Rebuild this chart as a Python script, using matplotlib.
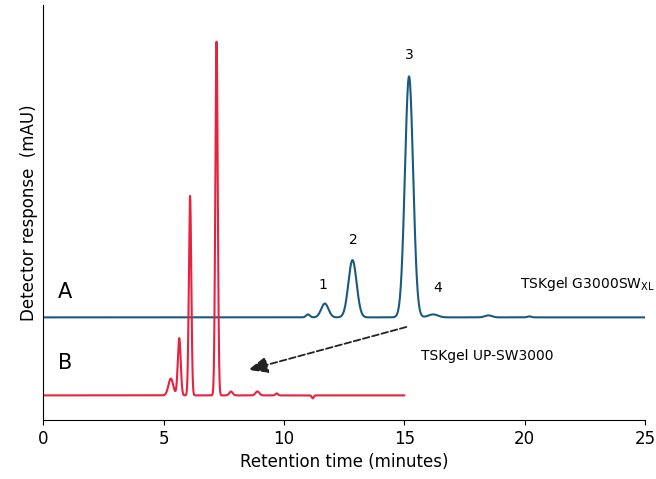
import numpy as np
import matplotlib.pyplot as plt

# peak parameters: centre (min), height, width (sigma)
a_pos = [11.0, 11.7, 12.85, 15.2, 16.2, 18.5, 20.2]
a_height = [3, 14, 58, 244, 3, 2, 1]
a_width = [0.08, 0.15, 0.17, 0.17, 0.2, 0.15, 0.08]
b_pos = [5.3, 5.65, 6.1, 7.2, 7.8, 8.9, 9.7, 11.2]
b_height = [17, 58, 202, 359, 4, 4, 2, -3]
b_width = [0.1, 0.06, 0.05, 0.05, 0.07, 0.08, 0.05, 0.04]
a_base, b_base = 104, 25


def trace(x, pos, h, w, base):
    y = np.full_like(x, base, dtype=float)
    for p, hh, ww in zip(pos, h, w):
        y += hh * np.exp(-0.5 * ((x - p) / ww) ** 2)
    return y


xa = np.linspace(0, 25, 3000)
xb = np.linspace(0, 15, 2000)

fig = plt.figure(figsize=(6.56, 4.79), dpi=100)
ax = fig.add_axes([0.066, 0.123, 0.917, 0.866])
ax.plot(xa, trace(xa, a_pos, a_height, a_width, a_base), color='#1a5a80', lw=1.5)
ax.plot(xb, trace(xb, b_pos, b_height, b_width, b_base), color='#e8213f', lw=1.5)

ax.annotate('', xy=(8.4, 50), xytext=(15.2, 95),
            arrowprops=dict(arrowstyle='-|>,head_length=1.2,head_width=0.5', ls='--',
                            color='#222222', lw=1.3))
ax.text(0.9, 130, 'A', fontsize=15, ha='center', va='center')
ax.text(0.9, 58, 'B', fontsize=15, ha='center', va='center')
ax.text(19.8, 138, 'TSKgel G3000SW$_{\\mathregular{XL}}$', fontsize=10, va='center')
ax.text(15.7, 65, 'TSKgel UP-SW3000', fontsize=10, va='center')
for lbl, x, y in [('1', 11.6, 137), ('2', 12.9, 182), ('3', 15.2, 370), ('4', 16.4, 134)]:
    ax.text(x, y, lbl, fontsize=10, ha='center', va='center')

ax.set_xlim(0, 25)
ax.set_ylim(0, 420)
ax.set_xticks([0, 5, 10, 15, 20, 25])
ax.set_yticks([])
ax.tick_params(axis='x', labelsize=12)
ax.spines['top'].set_visible(False)
ax.spines['right'].set_visible(False)
ax.set_xlabel('Retention time (minutes)', fontsize=12)
ax.set_ylabel('Detector response  (mAU)', fontsize=12)
fig.savefig('out.png')
